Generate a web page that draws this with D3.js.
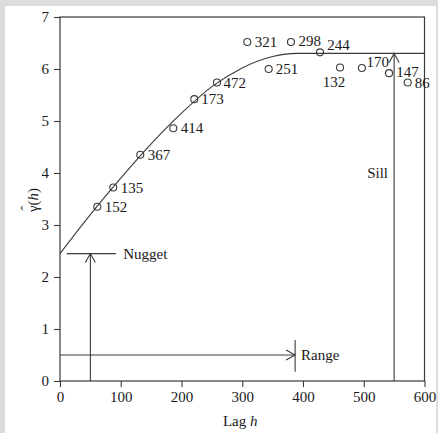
<!DOCTYPE html>
<html>
<head>
<meta charset="utf-8">
<script src="https://cdn.jsdelivr.net/npm/d3@7"></script>
<style>
  body { margin: 0; background: #dcdcdc; }
  svg { display: block; }
  svg text { font-family: "Liberation Serif", "DejaVu Serif", serif; fill: #1a1a1a; }
</style>
</head>
<body>
<div id="chart"></div>
<script>
// semivariogram points: lag, semivariance, number of pairs
var lags   = [61.4, 87.7, 132.2, 186.5, 221, 258.4, 308.3, 380.2, 428, 343.5, 461, 497, 541.6, 572.4];
var gammas = [3.35, 3.72, 4.35, 4.86, 5.42, 5.74, 6.52, 6.52, 6.32, 6.00, 6.03, 6.02, 5.92, 5.74];
var pairs  = ["152", "135", "367", "414", "173", "472", "321", "298", "244", "251", "132", "170", "147", "86"];

// fitted model
var modelLags   = [0, 50, 100, 150, 200, 250, 300, 350, 390, 600];
var modelGammas = [2.45, 3.2, 3.9, 4.56, 5.15, 5.66, 6.02, 6.24, 6.30, 6.30];

var nugget = 2.45, sill = 6.30, range = 387;
var xTicks = [0, 100, 200, 300, 400, 500, 600];
var yTicks = [0, 1, 2, 3, 4, 5, 6, 7];

// label placement (dx, dy px from point, anchor)
var labelPos = [
  [7.5, 0, "start"], [7.5, 0, "start"], [7.5, 0, "start"], [7.5, 0, "start"], [7, 0, "start"],
  [6.5, 0, "start"], [7.5, 0, "start"], [7.5, -1, "start"], [7.2, -7, "start"], [7, 0, "start"],
  [-6, 14.7, "middle"], [4.5, -6, "start"], [7.3, -1, "start"], [7, 0, "start"]
];

var dim = { width: 438, height: 433, margin: { top: 17, right: 13.5, bottom: 52, left: 60 } };
dim.plot = {
  width: dim.width - dim.margin.left - dim.margin.right,
  height: dim.height - dim.margin.top - dim.margin.bottom
};

var x = d3.scaleLinear().domain([0, 600]).range([0, dim.plot.width]);
var y = d3.scaleLinear().domain([0, 7]).range([dim.plot.height, 0]);

var ink = "#3a3a3a";
var fs = 15;

var svg = d3.select("#chart").append("svg")
    .attr("width", dim.width)
    .attr("height", dim.height);

svg.append("rect")
    .attr("x", 5).attr("y", 6)
    .attr("width", 431).attr("height", dim.height - 6)
    .attr("fill", "#fff");

svg.append("defs").append("marker")
    .attr("id", "vee")
    .attr("viewBox", "-10 -6 12 12")
    .attr("refX", 0).attr("refY", 0)
    .attr("markerWidth", 12).attr("markerHeight", 12)
    .attr("markerUnits", "userSpaceOnUse")
    .attr("orient", "auto")
    .append("path")
    .attr("d", "M-9,-5L0,0L-9,5")
    .attr("fill", "none")
    .attr("stroke", ink)
    .attr("stroke-width", 1.1);

var g = svg.append("g")
    .attr("transform", "translate(" + dim.margin.left + "," + dim.margin.top + ")");

// frame
g.append("rect")
    .attr("width", dim.plot.width).attr("height", dim.plot.height)
    .attr("fill", "none").attr("stroke", ink).attr("stroke-width", 1.2);

var xAxis = d3.axisBottom(x).tickValues(xTicks).tickSize(6).tickPadding(4).tickSizeOuter(0)
    .tickFormat(d3.format("d"));
var yAxis = d3.axisLeft(y).tickValues(yTicks).tickSize(6).tickPadding(5).tickSizeOuter(0)
    .tickFormat(d3.format("d"));

function styleAxis(s) {
  s.attr("font-family", null).attr("font-size", null);
  s.select(".domain").remove();
  s.selectAll("line").attr("stroke", ink).attr("stroke-width", 1.1);
  s.selectAll("text").style("font-size", fs + "px").attr("fill", "#1a1a1a");
}

g.append("g")
    .attr("transform", "translate(0," + dim.plot.height + ")")
    .call(xAxis)
    .call(styleAxis);

g.append("g")
    .call(yAxis)
    .call(styleAxis);

// axis titles
var yl = g.append("g")
    .attr("transform", "translate(-22," + (y(3.5) + 1) + ") rotate(-90)");
var ylt = yl.append("text")
    .attr("text-anchor", "middle")
    .attr("font-size", fs);
ylt.append("tspan").text("\u03B3(");
ylt.append("tspan").attr("font-style", "italic").text("h");
ylt.append("tspan").text(")");
yl.append("text")
    .attr("x", -8).attr("y", -7)
    .attr("text-anchor", "middle")
    .attr("font-size", fs)
    .text("\u02C6");

var xl = g.append("text")
    .attr("x", x(300) - 2)
    .attr("y", dim.plot.height + 45)
    .attr("text-anchor", "middle")
    .attr("font-size", fs);
xl.append("tspan").text("Lag ");
xl.append("tspan").attr("font-style", "italic").text("h");

// model curve
var line = d3.line()
    .x(function(d) { return x(d[0]); })
    .y(function(d) { return y(d[1]); })
    .curve(d3.curveMonotoneX);

g.append("path")
    .datum(d3.zip(modelLags, modelGammas))
    .attr("d", line)
    .attr("fill", "none")
    .attr("stroke", ink)
    .attr("stroke-width", 1.1);

// nugget
g.append("line")
    .attr("x1", x(50)).attr("x2", x(50))
    .attr("y1", y(0)).attr("y2", y(nugget))
    .attr("stroke", ink).attr("stroke-width", 1.1).attr("marker-end", "url(#vee)");
g.append("line")
    .attr("x1", x(11)).attr("x2", x(92))
    .attr("y1", y(nugget)).attr("y2", y(nugget))
    .attr("stroke", ink).attr("stroke-width", 1.1);
g.append("text")
    .attr("x", x(104)).attr("y", y(nugget) + 5)
    .attr("font-size", fs)
    .text("Nugget");

// range
g.append("line")
    .attr("x1", x(0)).attr("x2", x(range))
    .attr("y1", y(0.5)).attr("y2", y(0.5))
    .attr("stroke", ink).attr("stroke-width", 1.1).attr("marker-end", "url(#vee)");
g.append("line")
    .attr("x1", x(range)).attr("x2", x(range))
    .attr("y1", y(0.18)).attr("y2", y(0.79))
    .attr("stroke", ink).attr("stroke-width", 1.1);
g.append("text")
    .attr("x", x(range) + 6).attr("y", y(0.5) + 5)
    .attr("font-size", fs)
    .text("Range");

// sill
g.append("line")
    .attr("x1", x(550)).attr("x2", x(550))
    .attr("y1", y(0)).attr("y2", y(sill))
    .attr("stroke", ink).attr("stroke-width", 1.1).attr("marker-end", "url(#vee)");
g.append("text")
    .attr("x", x(540)).attr("y", y(4) + 5)
    .attr("text-anchor", "end")
    .attr("font-size", fs)
    .text("Sill");

// points
var pts = g.selectAll("g.pt").data(lags).enter()
    .append("g")
    .attr("class", "pt")
    .attr("transform", function(d, i) { return "translate(" + x(d) + "," + y(gammas[i]) + ")"; });

pts.append("circle")
    .attr("r", 3.5)
    .attr("fill", "none")
    .attr("stroke", ink)
    .attr("stroke-width", 1.1);

pts.append("text")
    .attr("x", function(d, i) { return labelPos[i][0]; })
    .attr("y", function(d, i) { return labelPos[i][1] + 5; })
    .attr("text-anchor", function(d, i) { return labelPos[i][2]; })
    .attr("font-size", fs)
    .text(function(d, i) { return pairs[i]; });
</script>
</body>
</html>
